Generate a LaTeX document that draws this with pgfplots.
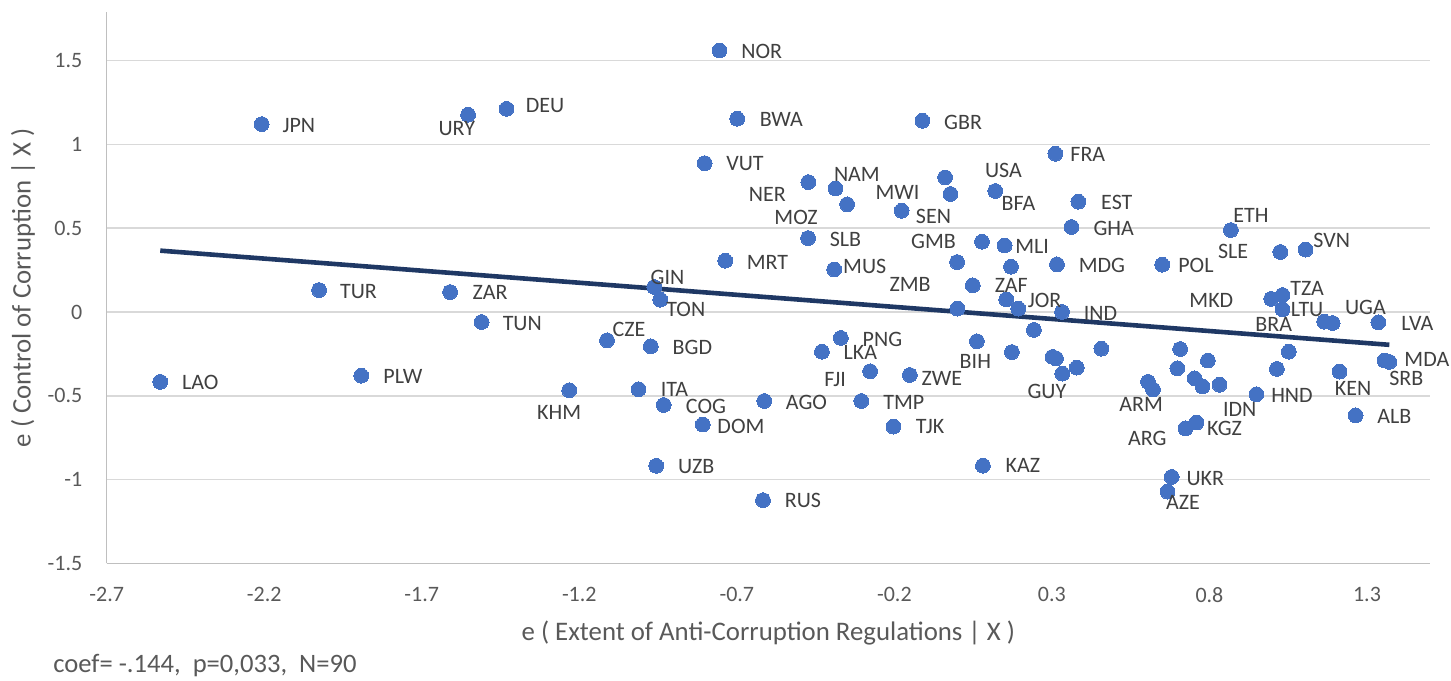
\documentclass[border=0pt]{standalone}
\usepackage{fontspec}
\setmainfont{Carlito}
\usepackage{pgfplots}
\pgfplotsset{compat=1.18}
\usetikzlibrary{calc}
\definecolor{ptblue}{HTML}{4472C4}
\definecolor{trend}{HTML}{1F3864}
\definecolor{gridgray}{HTML}{D9D9D9}
\definecolor{axgray}{HTML}{BFBFBF}
\definecolor{txt}{HTML}{595959}
\definecolor{lbl}{HTML}{404040}
\begin{document}
\begin{tikzpicture}
\begin{axis}[name=ax, scale only axis, width=661.7bp, height=275.7bp,
 xmin=-2.7, xmax=1.5, ymin=-1.5, ymax=1.79,
 axis x line=bottom, axis y line=left,
 axis line style={-, draw=axgray, line width=0.75bp},
 every outer x axis line/.append style={-},
 every outer y axis line/.append style={-},
 xtick={-2.7,-2.2,-1.7,-1.2,-0.7,-0.2,0.3,0.8,1.3},
 xticklabels={-2.7,-2.2,-1.7,-1.2,-0.7,-0.2,0.3,0.8,1.3},
 ytick={-1.5,-1,-0.5,0,0.5,1,1.5},
 yticklabels={-1.5,-1,-0.5,0,0.5,1,1.5},
 major tick length=0pt,
 ymajorgrids, grid style={gridgray, line width=0.75bp},
 tick label style={font=\fontsize{11bp}{13bp}\selectfont, text=txt, inner sep=0pt},
 xticklabel style={anchor=north, yshift=-11.7bp},
 yticklabel style={anchor=east, xshift=-12bp},
 xlabel={e ( Extent of Anti-Corruption Regulations | X )},
 ylabel={e ( Control of Corruption | X )},
 label style={font=\fontsize{13.4bp}{15bp}\selectfont, text=txt},
 xlabel style={at={(axis description cs:0.5,-0.127)}, anchor=center},
 ylabel style={at={(axis description cs:-0.0632,0.5)}, anchor=center},
 clip=false,
]
\addplot[ptblue, only marks, mark=*, mark size=3.7bp, mark options={draw=ptblue, fill=ptblue, line width=0pt}] table {
x y
-2.530 -0.417
-2.208 1.121
-2.026 0.131
-1.892 -0.380
-1.610 0.119
-1.553 1.177
-1.510 -0.060
-1.431 1.212
-1.232 -0.467
-1.112 -0.169
-1.012 -0.461
-0.973 -0.205
-0.962 0.149
-0.956 -0.918
-0.943 0.073
-0.932 -0.555
-0.808 -0.672
-0.802 0.888
-0.755 1.560
-0.737 0.306
-0.699 1.153
-0.613 -0.531
-0.617 -1.123
-0.473 0.775
-0.474 0.441
-0.430 -0.237
-0.391 0.254
-0.387 0.737
-0.370 -0.155
-0.350 0.642
-0.305 -0.531
-0.277 -0.354
-0.203 -0.684
-0.177 0.604
-0.151 -0.376
-0.111 1.141
-0.039 0.803
-0.022 0.704
-0.001 0.298
0.000 0.020
0.049 0.159
0.062 -0.175
0.078 0.419
0.081 -0.917
0.120 0.722
0.150 0.397
0.155 0.075
0.170 0.270
0.173 -0.239
0.193 0.020
0.243 -0.107
0.302 -0.268
0.313 -0.277
0.311 0.944
0.316 0.284
0.332 0.000
0.333 -0.368
0.362 0.507
0.379 -0.332
0.384 0.658
0.457 -0.219
0.605 -0.417
0.621 -0.463
0.650 0.282
0.667 -1.072
0.680 -0.984
0.698 -0.336
0.707 -0.221
0.724 -0.694
0.753 -0.396
0.759 -0.660
0.778 -0.444
0.795 -0.290
0.832 -0.434
0.868 0.489
0.949 -0.491
0.996 0.078
1.014 -0.340
1.025 0.358
1.032 0.101
1.032 0.016
1.052 -0.237
1.105 0.372
1.164 -0.058
1.191 -0.066
1.213 -0.356
1.264 -0.617
1.336 -0.062
1.356 -0.289
1.371 -0.298
};
\addplot[trend, line width=2.3bp, no marks] coordinates {(-2.530,0.366) (1.371,-0.196)};
\addplot[only marks, mark=none, nodes near coords, point meta=explicit symbolic,
  nodes near coords align=center,
  every node near coord/.append style={font=\fontsize{11bp}{13bp}\selectfont, text=lbl, inner sep=0pt, anchor=center}]
  table[meta=name] {
x y name
-2.090 1.113 JPN
-1.589 1.097 URY
-1.901 0.123 TUR
-1.483 0.115 ZAR
-1.381 -0.066 TUN
-2.403 -0.423 LAO
-1.760 -0.384 PLW
-1.309 1.232 DEU
-0.621 1.554 NOR
-0.559 1.147 BWA
0.018 1.133 GBR
-0.674 0.883 VUT
-0.319 0.823 NAM
-0.603 0.704 NER
-0.190 0.716 MWI
-0.512 0.564 MOZ
-0.076 0.570 SEN
-0.355 0.435 SLB
-0.076 0.421 GMB
-0.603 0.296 MRT
-0.294 0.272 MUS
-0.920 0.206 GIN
-0.150 0.163 ZMB
-0.862 0.018 TON
-1.042 -0.106 CZE
-0.841 -0.209 BGD
-0.238 -0.161 PNG
-0.308 -0.244 LKA
-0.388 -0.404 FJI
-0.049 -0.396 ZWE
0.057 -0.298 BIH
-1.264 -0.599 KHM
-0.898 -0.463 ITA
-0.798 -0.563 COG
-0.479 -0.537 AGO
-0.170 -0.537 TMP
-0.687 -0.682 DOM
-0.087 -0.686 TJK
-0.829 -0.924 UZB
-0.490 -1.127 RUS
0.146 0.844 USA
0.414 0.942 FRA
0.194 0.650 BFA
0.506 0.656 EST
0.496 0.499 GHA
0.932 0.576 ETH
0.237 0.391 MLI
1.188 0.427 SVN
0.875 0.361 SLE
0.459 0.278 MDG
0.757 0.278 POL
0.171 0.157 ZAF
0.277 0.069 JOR
0.454 -0.006 IND
0.806 0.069 MKD
1.110 0.143 TZA
1.110 0.014 LTU
1.295 0.030 UGA
1.460 -0.066 LVA
1.004 -0.076 BRA
1.490 -0.284 MDA
1.425 -0.396 SRB
1.256 -0.459 KEN
1.062 -0.497 HND
0.896 -0.584 IDN
1.387 -0.623 ALB
0.583 -0.551 ARM
0.284 -0.477 GUY
0.848 -0.692 KGZ
0.603 -0.757 ARG
0.208 -0.917 KAZ
0.787 -0.992 UKR
0.716 -1.139 AZE
};
\node[anchor=west, font=\fontsize{13.3bp}{15bp}\selectfont, text=txt, inner sep=0pt] at (axis description cs:-0.0406,-0.1845) {coef= -.144,\ \ p=0,033,\ \ N=90};
\end{axis}
\pgfresetboundingbox
\path[use as bounding box] ($(ax.south west)+(-53.35bp,-58.35bp)$) rectangle ($(ax.north east)+(10.5bp,6bp)$);
\end{tikzpicture}
\end{document}
